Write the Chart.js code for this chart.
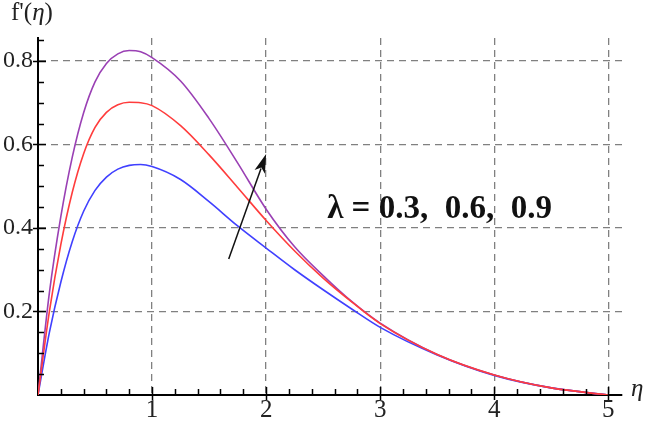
<!DOCTYPE html>
<html>
<head>
<meta charset="utf-8">
<script src="https://cdn.jsdelivr.net/npm/chart.js@4.4.1/dist/chart.umd.min.js"></script>
<style>
  html, body { margin: 0; padding: 0; background: #fff; }
</style>
</head>
<body>
<canvas id="perfilChart" width="646" height="423"></canvas>
<script>
// Dados: f'(eta) para lambda = 0.3, 0.6, 0.9
const eta = [0, 0.1, 0.2, 0.3, 0.4, 0.5, 0.6, 0.7, 0.8, 0.9, 1.0, 1.25, 1.5, 1.75, 2.0, 2.25, 2.5, 2.75, 3.0, 3.5, 4.0, 4.5, 5.0];
const fLambda03 = [0, 0.150, 0.270, 0.367, 0.440, 0.490, 0.522, 0.541, 0.550, 0.552, 0.547, 0.516, 0.463, 0.405, 0.352, 0.300, 0.252, 0.206, 0.162, 0.096, 0.047, 0.017, 0];
const fLambda06 = [0, 0.200, 0.360, 0.485, 0.578, 0.641, 0.677, 0.695, 0.701, 0.700, 0.693, 0.645, 0.575, 0.497, 0.418, 0.345, 0.280, 0.223, 0.171, 0.097, 0.048, 0.017, 0];
const fLambda09 = [0, 0.245, 0.427, 0.569, 0.676, 0.750, 0.794, 0.817, 0.825, 0.822, 0.808, 0.752, 0.662, 0.556, 0.445, 0.355, 0.286, 0.224, 0.172, 0.097, 0.048, 0.017, 0];

const xTicks = [1, 2, 3, 4, 5];
const yTicks = [0.2, 0.4, 0.6, 0.8];
const rotulo = "\u03BB = 0.3,  0.6,  0.9";

const serif = "'Liberation Serif', 'Times New Roman', serif";

function pontos(ys) {
  return eta.map((x, i) => ({ x: x, y: ys[i] }));
}

// Ticks menores, titulos dos eixos, seta e texto
const extras = {
  id: 'extras',
  afterDraw(chart) {
    const ctx = chart.ctx;
    const sx = chart.scales.x;
    const sy = chart.scales.y;
    const x0 = sx.getPixelForValue(0);
    const y0 = sy.getPixelForValue(0);
    ctx.save();
    ctx.strokeStyle = '#000';
    ctx.lineWidth = 1.5;
    ctx.beginPath();
    // ticks no eixo x
    for (let v = 0.2; v < sx.max; v += 0.2) {
      const px = Math.round(sx.getPixelForValue(v)) + 0.5;
      const major = Math.abs(v - Math.round(v)) < 1e-6;
      ctx.moveTo(px, major ? y0 + 5 : y0);
      ctx.lineTo(px, major ? y0 - 8 : y0 - 6);
    }
    // ticks no eixo y
    for (let v = 0.05; v < sy.max; v += 0.05) {
      const py = Math.round(sy.getPixelForValue(v)) + 0.5;
      const major = Math.abs(v * 5 - Math.round(v * 5)) < 1e-6;
      ctx.moveTo(major ? x0 - 5 : x0, py);
      ctx.lineTo(major ? x0 + 8 : x0 + 6, py);
    }
    ctx.stroke();

    // titulos
    ctx.fillStyle = '#222';
    ctx.textBaseline = 'alphabetic';
    ctx.font = "25px " + serif;
    let tx = 11;
    ctx.fillText("f'(", tx, 20);
    tx += ctx.measureText("f'(").width;
    ctx.font = "italic 25px " + serif;
    ctx.fillText("\u03B7", tx, 20);
    tx += ctx.measureText("\u03B7").width;
    ctx.font = "25px " + serif;
    ctx.fillText(")", tx, 20);

    ctx.font = "italic 25px " + serif;
    ctx.fillText("\u03B7", 631, 396);

    // seta
    const ax1 = sx.getPixelForValue(1.672), ay1 = sy.getPixelForValue(0.326);
    const ax2 = sx.getPixelForValue(2.0), ay2 = sy.getPixelForValue(0.577);
    const ang = Math.atan2(ay2 - ay1, ax2 - ax1);
    const hl = 19, hw = 5.5;
    ctx.strokeStyle = '#111';
    ctx.lineWidth = 1.5;
    ctx.beginPath();
    ctx.moveTo(ax1, ay1);
    ctx.lineTo(ax2 - Math.cos(ang) * hl * 0.8, ay2 - Math.sin(ang) * hl * 0.8);
    ctx.stroke();
    ctx.fillStyle = '#111';
    ctx.beginPath();
    ctx.moveTo(ax2, ay2);
    ctx.lineTo(ax2 - Math.cos(ang) * hl - Math.sin(ang) * hw, ay2 - Math.sin(ang) * hl + Math.cos(ang) * hw);
    ctx.lineTo(ax2 - Math.cos(ang) * hl * 0.75, ay2 - Math.sin(ang) * hl * 0.75);
    ctx.lineTo(ax2 - Math.cos(ang) * hl + Math.sin(ang) * hw, ay2 - Math.sin(ang) * hl - Math.cos(ang) * hw);
    ctx.closePath();
    ctx.fill();

    // texto lambda
    ctx.fillStyle = '#111';
    ctx.font = "bold 33px " + serif;
    ctx.fillText(rotulo, sx.getPixelForValue(2.535), sy.getPixelForValue(0.425));
    ctx.restore();
  }
};

const config = {
  type: 'line',
  data: {
    datasets: [
      { label: '\u03BB = 0.6', data: pontos(fLambda06), borderColor: '#ff3c3c' },
      { label: '\u03BB = 0.9', data: pontos(fLambda09), borderColor: '#9a40b4' },
      { label: '\u03BB = 0.3', data: pontos(fLambda03), borderColor: '#4040ff' }
    ]
  },
  options: {
    responsive: false,
    animation: false,
    layout: { padding: { top: 38, right: 24, left: 0, bottom: 0 } },
    elements: {
      line: { borderWidth: 1.6, cubicInterpolationMode: 'monotone', fill: false },
      point: { radius: 0 }
    },
    plugins: { legend: { display: false }, tooltip: { enabled: false } },
    scales: {
      x: {
        type: 'linear',
        min: 0,
        max: 5.12,
        afterBuildTicks: s => { s.ticks = xTicks.map(v => ({ value: v })); },
        afterFit: s => { s.height = 28; },
        grid: { color: '#808080', lineWidth: 1.3, drawTicks: false },
        border: { color: '#000', width: 2, dash: [7, 5] },
        ticks: {
          color: '#222',
          padding: 0,
          maxRotation: 0,
          font: { family: serif, size: 25 },
          callback: v => String(v)
        }
      },
      y: {
        type: 'linear',
        min: 0,
        max: 0.855,
        afterBuildTicks: s => { s.ticks = yTicks.map(v => ({ value: v })); },
        afterFit: s => { s.width = 38; },
        grid: { color: '#808080', lineWidth: 1.3, drawTicks: false },
        border: { color: '#000', width: 2, dash: [7, 5] },
        ticks: {
          color: '#222',
          padding: 5,
          font: { family: serif, size: 24 },
          callback: v => v.toFixed(1)
        }
      }
    }
  },
  plugins: [extras]
};

new Chart(document.getElementById('perfilChart').getContext('2d'), config);
</script>
</body>
</html>
